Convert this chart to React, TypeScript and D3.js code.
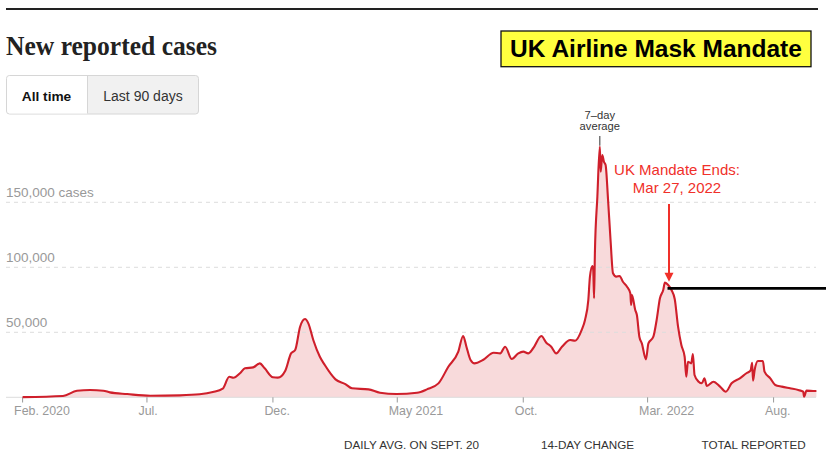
import React from "react";
import * as d3 from "d3";

const dates = [
  "2020-02-01","2020-03-21","2020-04-07","2020-04-23","2020-05-09","2020-05-17","2020-06-07","2020-07-05",
  "2020-08-10","2020-09-03","2020-09-19","2020-10-01","2020-10-09","2020-10-14","2020-10-22","2020-10-28",
  "2020-11-07","2020-11-13","2020-11-15","2020-11-21","2020-12-01","2020-12-07","2020-12-16","2020-12-23",
  "2020-12-28","2021-01-03","2021-01-09","2021-01-13","2021-01-19","2021-01-27","2021-02-02","2021-02-15",
  "2021-02-27","2021-03-07","2021-03-27","2021-04-10","2021-04-30","2021-05-25","2021-06-06","2021-06-20",
  "2021-07-02","2021-07-14","2021-07-20","2021-07-24","2021-07-29","2021-08-03","2021-08-13","2021-08-26",
  "2021-09-03","2021-09-09","2021-09-17","2021-09-25","2021-10-01","2021-10-07","2021-10-13","2021-10-23",
  "2021-10-29","2021-11-04","2021-11-10","2021-11-17","2021-11-27","2021-12-03","2021-12-11","2021-12-15",
  "2021-12-19","2021-12-21","2021-12-24","2021-12-25","2021-12-26","2021-12-27","2021-12-30","2022-01-02",
  "2022-01-03","2022-01-05","2022-01-07","2022-01-09","2022-01-12","2022-01-15","2022-01-18","2022-01-22",
  "2022-01-26","2022-01-30","2022-02-04","2022-02-08","2022-02-09","2022-02-10","2022-02-14","2022-02-16",
  "2022-02-19","2022-02-22","2022-02-27","2022-03-02","2022-03-08","2022-03-12","2022-03-16","2022-03-20",
  "2022-03-22","2022-03-26","2022-03-30","2022-04-03","2022-04-07","2022-04-11","2022-04-15","2022-04-17",
  "2022-04-19","2022-04-23","2022-04-25","2022-04-27","2022-05-02","2022-05-06","2022-05-09","2022-05-12",
  "2022-05-20","2022-05-28","2022-06-04","2022-06-11","2022-06-21","2022-06-29","2022-07-04","2022-07-06",
  "2022-07-07","2022-07-09","2022-07-13","2022-07-19","2022-07-21","2022-07-28","2022-08-03","2022-08-11",
  "2022-08-21","2022-08-31","2022-09-06","2022-09-07","2022-09-10","2022-09-20","2022-09-22"
];

const cases = [
  100,1000,5000,5600,5100,3800,2500,1200,
  1500,2300,4000,6600,15800,15000,18500,22300,
  23000,25600,26100,22300,15400,15100,20500,33800,
  36400,54300,60200,56900,44100,31200,24800,13800,
  10200,6900,6100,3500,2500,3500,6100,10700,
  23500,35000,47200,38900,28700,26100,28700,34300,
  33800,38900,29500,33800,35100,33800,37700,47200,
  42000,38900,33800,38900,44100,43500,51800,59500,
  74800,92800,101000,97900,76200,110800,154300,192800,
  173500,186400,181200,178700,151800,121000,95400,92800,
  93300,88900,85100,80000,71000,78700,67100,63300,
  46600,41500,29200,41500,46600,59500,76200,82500,
  88200,86400,82500,75400,54300,40200,31200,15800,
  27400,26100,33300,17200,12000,10800,14600,8700,
  12000,8200,4300,10800,14600,18500,20500,26600,
  12800,21000,27900,27900,19700,14600,9500,8200,
  6900,5600,4300,500,5100,4800,4800
];

const xTickDates = ["2020-02-01","2020-07-01","2020-12-01","2021-05-01","2021-10-01","2022-03-01","2022-08-01"];
const xTickLabels = ["Feb. 2020","Jul.","Dec.","May 2021","Oct.","Mar. 2022","Aug."];
const yTickValues = [50000, 100000, 150000];
const yTickLabels = ["50,000", "100,000", "150,000 cases"];
const footerLabels = ["DAILY AVG. ON SEPT. 20", "14-DAY CHANGE", "TOTAL REPORTED"];

const peakDate = "2022-01-02";
const mandateDate = "2022-03-27";
const mandateLevel = 83800;

const parse = d3.timeParse("%Y-%m-%d");

export default function App() {
  const data = dates.map((d, i) => ({ date: parse(d) as Date, value: cases[i] }));
  const x = d3.scaleTime()
    .domain([parse("2020-02-01") as Date, parse("2022-09-22") as Date])
    .range([22.6, 816.4]);
  const y = d3.scaleLinear().domain([0, 150000]).range([397.3, 202.3]);

  const line = d3.line<{ date: Date; value: number }>()
    .x(d => x(d.date))
    .y(d => y(d.value))
    .curve(d3.curveMonotoneX);
  const area = d3.area<{ date: Date; value: number }>()
    .x(d => x(d.date))
    .y0(y(0))
    .y1(d => y(d.value))
    .curve(d3.curveMonotoneX);

  const sans = "'Liberation Sans', Arial, Helvetica, sans-serif";
  const peakX = x(parse(peakDate) as Date);
  const peakVal = cases[dates.indexOf(peakDate)];
  const ax = x(parse(mandateDate) as Date);
  const levelY = y(mandateLevel);
  const tipY = levelY - 6.6;

  return (
    <svg width={826} height={459} style={{ position: "absolute", left: 0, top: 0, background: "#fff" }}>
      <rect x={0} y={0} width={826} height={459} fill="#fff" />
      {/* top rule */}
      <rect x={6} y={8} width={812} height={2} fill="#222" />
      {/* title */}
      <text x={6} y={55} fontFamily="'Liberation Serif', 'Times New Roman', serif" fontWeight="bold"
        fontSize={27.5} fill="#222" textLength={211} lengthAdjust="spacingAndGlyphs">New reported cases</text>

      {/* buttons */}
      <rect x={6.5} y={75.5} width={192} height={38.5} rx={3} fill="#f1f1f1" stroke="#d6d6d6" />
      <path d="M9.5,76 H87.5 V113.5 H9.5 A3,3 0 0 1 7,111 V78.5 A3,3 0 0 1 9.5,76 Z" fill="#fff" />
      <line x1={87.5} x2={87.5} y1={76} y2={113.5} stroke="#d6d6d6" />
      <text x={46.5} y={100.5} textAnchor="middle" fontFamily={sans} fontWeight="bold" fontSize={13.7} fill="#121212">All time</text>
      <text x={143} y={100.5} textAnchor="middle" fontFamily={sans} fontSize={14} fill="#333">Last 90 days</text>

      {/* yellow box */}
      <rect x={501} y={31} width={310} height={35.7} fill="#ffff3f" stroke="#111" strokeWidth={1.3} />
      <text x={656} y={57} textAnchor="middle" fontFamily={sans} fontWeight="bold" fontSize={24.5} fill="#000">UK Airline Mask Mandate</text>

      {/* area */}
      <path d={area(data) || ""} fill="#f8dadb" />

      {/* grid lines */}
      {yTickValues.map((v, i) => (
        <g key={v}>
          <line x1={6} x2={816} y1={y(v)} y2={y(v)} stroke="#dcdcdc" strokeDasharray="4,4" />
          <text x={6} y={y(v) - 5.6} fontFamily={sans} fontSize={13.5} fill="#999">{yTickLabels[i]}</text>
        </g>
      ))}

      {/* x axis */}
      <line x1={6} x2={816} y1={y(0)} y2={y(0)} stroke="#ddd" />
      {xTickDates.map((d, i) => {
        const tx = x(parse(d) as Date);
        return (
          <g key={d}>
            <line x1={tx} x2={tx} y1={y(0)} y2={402.5} stroke="#999" />
            <text x={tx - 8.5} y={415} fontFamily={sans} fontSize={12.4} fill="#999">{xTickLabels[i]}</text>
          </g>
        );
      })}

      {/* line */}
      <path d={line(data) || ""} fill="none" stroke="#cf1f2b" strokeWidth={2.1} strokeLinejoin="round" />

      {/* 7-day average annotation */}
      <line x1={peakX} x2={peakX} y1={136} y2={y(peakVal) - 1} stroke="#333" strokeWidth={1} />
      <text x={peakX} y={118.5} textAnchor="middle" fontFamily={sans} fontSize={11.2} fill="#333">7–day</text>
      <text x={peakX} y={130} textAnchor="middle" fontFamily={sans} fontSize={11.2} fill="#333">average</text>

      {/* mandate level line */}
      <line x1={ax - 1.5} x2={826} y1={levelY} y2={levelY} stroke="#000" strokeWidth={2.6} />

      {/* mandate annotation */}
      <text x={ax + 8} y={175} textAnchor="middle" fontFamily={sans} fontSize={15} fill="#f0302a">UK Mandate Ends:</text>
      <text x={ax + 8} y={192.5} textAnchor="middle" fontFamily={sans} fontSize={15} fill="#f0302a">Mar 27, 2022</text>
      <line x1={ax} x2={ax} y1={204} y2={tipY - 8} stroke="#f0302a" strokeWidth={2} />
      <path d={`M${ax - 4.5},${tipY - 9} L${ax + 4.5},${tipY - 9} L${ax},${tipY} Z`} fill="#f0302a" />

      {/* footer */}
      <text x={344} y={449} fontFamily={sans} fontSize={11.7} fill="#333">{footerLabels[0]}</text>
      <text x={541} y={449} fontFamily={sans} fontSize={11.7} fill="#333">{footerLabels[1]}</text>
      <text x={701.5} y={449} fontFamily={sans} fontSize={11.7} fill="#333">{footerLabels[2]}</text>
    </svg>
  );
}
